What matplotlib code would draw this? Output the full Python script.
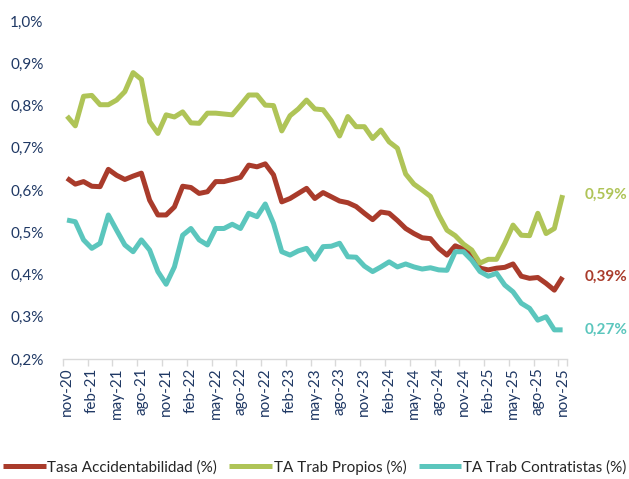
import matplotlib.pyplot as plt
from matplotlib.ticker import FuncFormatter, FixedLocator

plt.rcParams['font.family'] = ['Lato', 'DejaVu Sans']

# monthly values, nov-20 .. nov-25 (%)
tasa = [0.628, 0.614, 0.620, 0.609, 0.608, 0.649, 0.635, 0.625, 0.633, 0.640,
        0.576, 0.541, 0.541, 0.560, 0.609, 0.606, 0.592, 0.596, 0.620, 0.620,
        0.625, 0.630, 0.659, 0.655, 0.662, 0.636, 0.572, 0.580, 0.592, 0.604,
        0.580, 0.594, 0.584, 0.574, 0.570, 0.561, 0.545, 0.530, 0.548, 0.545,
        0.528, 0.509, 0.497, 0.487, 0.485, 0.462, 0.446, 0.468, 0.460, 0.446,
        0.415, 0.411, 0.415, 0.417, 0.425, 0.396, 0.391, 0.393, 0.379, 0.363,
        0.394]
propios = [0.775, 0.752, 0.822, 0.824, 0.802, 0.802, 0.813, 0.833, 0.878, 0.862,
           0.762, 0.734, 0.778, 0.773, 0.785, 0.759, 0.758, 0.782, 0.782, 0.780,
           0.778, 0.801, 0.825, 0.825, 0.801, 0.800, 0.740, 0.776, 0.792, 0.813,
           0.792, 0.790, 0.764, 0.728, 0.774, 0.750, 0.750, 0.722, 0.742, 0.714,
           0.699, 0.638, 0.614, 0.600, 0.585, 0.541, 0.505, 0.492, 0.472, 0.458,
           0.427, 0.436, 0.436, 0.474, 0.517, 0.493, 0.492, 0.545, 0.497, 0.509,
           0.588]
contratistas = [0.529, 0.525, 0.482, 0.462, 0.474, 0.541, 0.505, 0.470, 0.454, 0.482,
                0.458, 0.407, 0.377, 0.418, 0.493, 0.509, 0.482, 0.470, 0.509, 0.509,
                0.519, 0.509, 0.545, 0.537, 0.567, 0.521, 0.454, 0.446, 0.456, 0.462,
                0.436, 0.466, 0.467, 0.474, 0.442, 0.441, 0.420, 0.407, 0.418, 0.430,
                0.418, 0.425, 0.418, 0.413, 0.416, 0.411, 0.410, 0.454, 0.454, 0.434,
                0.407, 0.396, 0.403, 0.375, 0.359, 0.332, 0.320, 0.292, 0.300, 0.269,
                0.269]
meses = ['nov', 'dic', 'ene', 'feb', 'mar', 'abr', 'may', 'jun', 'jul', 'ago', 'sep', 'oct']
labels = []
for i in range(len(tasa)):
    m = meses[i % 12]
    year = 20 + (i + 10) // 12
    labels.append(f'{m}-{year}')

red = '#A93B2B'
green = '#AFC457'
cyan = '#5BC6BD'
navy = '#1F3864'

fig = plt.figure(figsize=(6.29, 4.79), dpi=100)
ax = fig.add_axes([0.100, 0.2505, 0.801, 0.7055])

x = list(range(len(tasa)))
ax.plot(x, tasa, color=red, lw=3.6, label='Tasa Accidentabilidad (%)', solid_capstyle='butt')
ax.plot(x, propios, color=green, lw=3.6, label='TA Trab Propios (%)', solid_capstyle='butt')
ax.plot(x, contratistas, color=cyan, lw=3.6, label='TA Trab Contratistas (%)', solid_capstyle='butt')

ax.set_xlim(-0.5, len(tasa) - 0.5)
ax.set_ylim(0.2, 1.0)
ax.set_yticks([0.2, 0.3, 0.4, 0.5, 0.6, 0.7, 0.8, 0.9, 1.0])
ax.yaxis.set_major_formatter(FuncFormatter(lambda v, p: f'{v:.1f}%'.replace('.', ',')))
ax.tick_params(axis='y', length=0, pad=14, labelsize=11, labelcolor=navy)

ax.set_xticks(x[::3])
ax.set_xticklabels(labels[::3], rotation=90)
ax.xaxis.set_minor_locator(FixedLocator([v - 0.5 for v in x[::3]] + [len(tasa) - 0.5]))
ax.tick_params(axis='x', which='major', length=0, pad=6, labelsize=11, labelcolor=navy)
ax.tick_params(axis='x', which='minor', length=5, color='#D9D9D9', width=1)

for s in ['top', 'right', 'left']:
    ax.spines[s].set_visible(False)
ax.spines['bottom'].set_color('#D9D9D9')
ax.spines['bottom'].set_linewidth(1)

ax.annotate('0,59%', (x[-1], propios[-1]), xytext=(16, 0), textcoords='offset points',
            color=green, fontsize=11, fontweight='bold', va='center', annotation_clip=False)
ax.annotate('0,39%', (x[-1], tasa[-1]), xytext=(16, 0), textcoords='offset points',
            color=red, fontsize=11, fontweight='bold', va='center', annotation_clip=False)
ax.annotate('0,27%', (x[-1], contratistas[-1]), xytext=(16, 0), textcoords='offset points',
            color=cyan, fontsize=11, fontweight='bold', va='center', annotation_clip=False)

fig.legend(loc='center', bbox_to_anchor=(0.5, 0.025), ncol=3, frameon=False, fontsize=11,
           handlelength=2.8, handletextpad=0.1, columnspacing=0.8, labelcolor='#262626')

fig.savefig('out.png', dpi=100)
